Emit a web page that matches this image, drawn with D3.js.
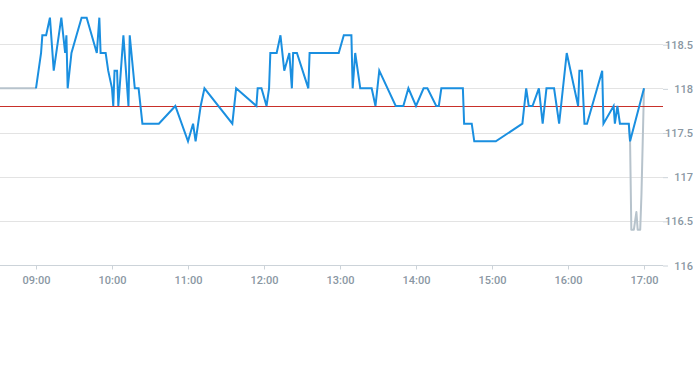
<!DOCTYPE html>
<html><head><meta charset="utf-8">
<script src="https://cdn.jsdelivr.net/npm/d3@7"></script>
<style>body{margin:0;background:#fff}svg{display:block}text{font-family:Roboto,"Liberation Sans",sans-serif}</style>
</head><body><svg id="c" width="693" height="365"></svg>
<script>
const blueTimes = ["09:00","09:02","09:04","09:05","09:08","09:11","09:14","09:20","09:23","09:24","09:25","09:28","09:32","09:36","09:40","09:48","09:50","09:51","09:55","09:57","10:00","10:01","10:02","10:04","10:05","10:09","10:13","10:14","10:18","10:21","10:24","10:37","10:50","11:00","11:04","11:06","11:10","11:13","11:35","11:38","11:54","11:55","11:58","12:02","12:04","12:05","12:10","12:13","12:16","12:20","12:22","12:23","12:26","12:35","12:36","12:59","13:03","13:09","13:10","13:12","13:16","13:25","13:28","13:31","13:44","13:50","13:54","14:00","14:06","14:09","14:16","14:18","14:20","14:37","14:38","14:44","14:46","15:03","15:24","15:27","15:29","15:32","15:37","15:40","15:43","15:49","15:53","15:59","16:08","16:09","16:11","16:13","16:15","16:27","16:28","16:36","16:37","16:39","16:41","16:48","16:49","17:00"];
const blueValues = [118.0,118.2,118.4,118.6,118.6,118.8,118.2,118.8,118.4,118.6,118.0,118.4,118.6,118.8,118.8,118.4,118.8,118.4,118.4,118.2,118.0,117.8,118.2,118.2,117.8,118.6,117.8,118.6,118.0,118.0,117.6,117.6,117.8,117.4,117.6,117.4,117.8,118.0,117.6,118.0,117.8,118.0,118.0,117.8,118.0,118.4,118.4,118.6,118.2,118.4,118.0,118.4,118.4,118.0,118.4,118.4,118.6,118.6,118.0,118.4,118.0,118.0,117.8,118.2,117.8,117.8,118.0,117.8,118.0,118.0,117.8,117.8,118.0,118.0,117.6,117.6,117.4,117.4,117.6,118.0,117.8,117.8,118.0,117.6,118.0,118.0,117.6,118.4,117.8,118.2,118.2,117.6,117.6,118.2,117.6,117.8,117.6,117.8,117.6,117.6,117.4,118.0];
const greyStartTimes = ["08:30","09:00"];
const greyStartValues = [118.0,118.0];
const greyEndTimes = ["16:48","16:49","16:50","16:52","16:54","16:55","16:57","16:58","17:00"];
const greyEndValues = [117.6,117.4,116.4,116.4,116.6,116.4,116.4,116.8,118.0];
const refLevel = 117.8;
const yTicks = [116,116.5,117,117.5,118,118.5];
const xTickLabels = ["09:00","10:00","11:00","12:00","13:00","14:00","15:00","16:00","17:00"];

const parse = d3.timeParse("%H:%M");
const svg = d3.select("#c");
const x = d3.scaleTime().domain([parse("08:30"), parse("17:15")]).range([-2, 663]);
const y = d3.scaleLinear().domain([116,119]).range([265,0]);

// grid
svg.append("g").selectAll("line").data(yTicks.slice(1)).join("line")
  .attr("x1",0).attr("x2",663).attr("y1",d=>Math.round(y(d))+0.5).attr("y2",d=>Math.round(y(d))+0.5)
  .attr("stroke","#e3e3e3").attr("stroke-width",1);

// y axis on right
const yAxis = d3.axisRight(y).tickValues(yTicks).tickSize(5).tickPadding(3).tickFormat(d=>d3.format("")(d));
const gy = svg.append("g").attr("transform","translate(663,0.5)").call(yAxis);
gy.select(".domain").remove();
gy.selectAll(".tick line").attr("stroke","#ccd3d9");
gy.selectAll(".tick text").attr("text-anchor","end").attr("x",30).attr("fill","#8a97a3").attr("font-size",11).attr("font-weight",500);

// x axis
const xAxis = d3.axisBottom(x).tickValues(xTickLabels.map(parse)).tickSize(4).tickPadding(7).tickFormat(d3.timeFormat("%H:%M"));
const gx = svg.append("g").attr("transform","translate(0,265.5)").call(xAxis);
gx.select(".domain").attr("d","M0,0H663").attr("stroke","#ccd3d9");
gx.selectAll(".tick line").attr("stroke","#ccd3d9");
gx.selectAll(".tick text").attr("fill","#8a97a3").attr("font-size",11).attr("font-weight",500);

const line = d3.line().x(d=>x(d[0])).y(d=>y(d[1]));
const zipT = (t,v)=>t.map((s,i)=>[parse(s),v[i]]);

svg.append("path").datum(zipT(greyStartTimes,greyStartValues)).attr("d",line)
  .attr("fill","none").attr("stroke","#b7c3cc").attr("stroke-width",2);
svg.append("path").datum(zipT(greyEndTimes,greyEndValues)).attr("d",line)
  .attr("fill","none").attr("stroke","#b7c3cc").attr("stroke-width",2).attr("stroke-linejoin","round");

// reference line
const ry = Math.floor(y(refLevel)) + 0.5;
svg.append("line").attr("x1",0).attr("x2",663).attr("y1",ry).attr("y2",ry)
  .attr("stroke","#c8302a").attr("stroke-width",1);

svg.append("path").datum(zipT(blueTimes,blueValues)).attr("d",line)
  .attr("fill","none").attr("stroke","#1a8fe0").attr("stroke-width",2);
</script></body></html>
